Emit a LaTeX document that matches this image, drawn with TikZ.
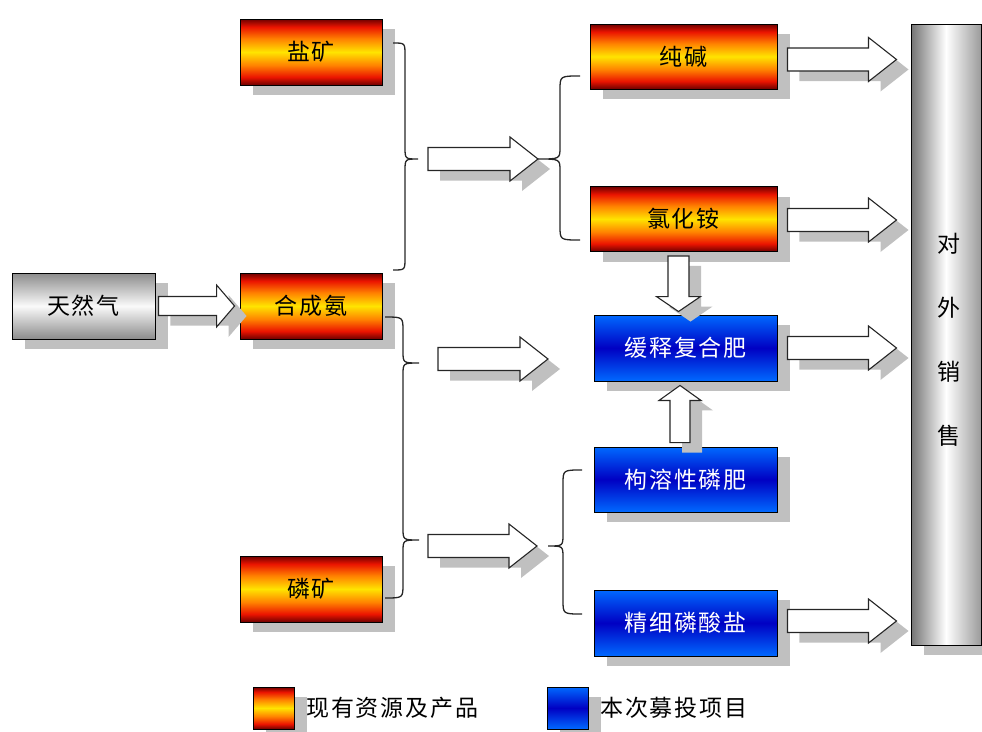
\documentclass[tikz,border=0pt]{standalone}
\usepackage{fontspec}
\newfontfamily\cjk[LetterSpace=8]{Noto Sans CJK SC}
\usetikzlibrary{shadows,calc}
\definecolor{fireD}{RGB}{110,0,0}
\definecolor{fireR}{RGB}{235,20,0}
\definecolor{fireO}{RGB}{255,130,0}
\definecolor{fireY}{RGB}{255,228,0}
\definecolor{blueL}{RGB}{0,105,255}
\definecolor{blueD}{RGB}{0,0,195}
\definecolor{grayD}{RGB}{140,140,140}
\definecolor{grayL}{RGB}{250,250,250}
\definecolor{colL}{RGB}{115,115,115}
\definecolor{colR}{RGB}{155,155,155}
\definecolor{shadowG}{RGB}{192,192,192}
\pgfdeclareverticalshading{fireshade}{100bp}{color(0bp)=(fireD); color(25bp)=(fireD); color(31bp)=(fireR); color(40bp)=(fireO); color(50bp)=(fireY); color(60bp)=(fireO); color(69bp)=(fireR); color(75bp)=(fireD); color(100bp)=(fireD)}
\pgfdeclareverticalshading{blueshade}{100bp}{color(0bp)=(blueL); color(25bp)=(blueL); color(50bp)=(blueD); color(75bp)=(blueL); color(100bp)=(blueL)}
\pgfdeclareverticalshading{grayshade}{100bp}{color(0bp)=(grayD); color(25bp)=(grayD); color(50bp)=(grayL); color(75bp)=(grayD); color(100bp)=(grayD)}
\pgfdeclarehorizontalshading{colshade}{100bp}{color(0bp)=(colL); color(25bp)=(colL); color(50bp)=(white); color(75bp)=(colR); color(100bp)=(colR)}
\tikzset{
  shadowed/.style={drop shadow={shadow xshift=13pt, shadow yshift=-10pt, fill=shadowG, opacity=1}},
  cjkfont/.style={font=\cjk\fontsize{23}{27}\selectfont},
  box/.style={draw=black, line width=0.9pt, shadowed, cjkfont, inner sep=0pt},
  firebox/.style={box, shade, shading=fireshade, minimum width=142pt, minimum height=66pt, text=black},
  graybox/.style={box, shade, shading=grayshade, minimum width=143pt, minimum height=66pt, text=black},
  prodbox/.style={box, shade, shading=fireshade, minimum width=187pt, minimum height=65pt, text=black},
  bluebox/.style={box, shade, shading=blueshade, minimum width=183pt, minimum height=66pt, text=white},
  blockar/.style={draw=black!85, line width=1.1pt, fill=white, line join=miter,
     drop shadow={shadow xshift=12pt, shadow yshift=-10pt, fill=shadowG, opacity=1}},
  bracel/.style={draw=black!85, line width=1.3pt},
  legtext/.style={cjkfont, anchor=west, inner sep=0pt}
}
% horizontal block arrow: start, end, head length, shaft half width, head half width
\newcommand\harrow[5]{%
  \path[blockar] let \p1=#1, \p2=#2 in
   (\x1,{\y1+#4}) -- ({\x2-#3},{\y1+#4}) -- ({\x2-#3},{\y1+#5}) -- (\x2,\y1)
   -- ({\x2-#3},{\y1-#5}) -- ({\x2-#3},{\y1-#4}) -- (\x1,{\y1-#4}) -- cycle;}
% vertical block arrow
\newcommand\varrow[5]{%
  \path[blockar] let \p1=#1, \p2=#2, \n1={sign(\y2-\y1)} in
   ({\x1-#4},\y1) -- ({\x1-#4},{\y2-\n1*#3}) -- ({\x1-#5},{\y2-\n1*#3}) -- (\x1,\y2)
   -- ({\x1+#5},{\y2-\n1*#3}) -- ({\x1+#4},{\y2-\n1*#3}) -- ({\x1+#4},\y1) -- cycle;}
\begin{document}
\begin{tikzpicture}[x=1pt,y=-1pt]
\useasboundingbox (0,0) rectangle (982,731);
% column
\node[draw=black, line width=1pt, shade, shading=colshade, shadowed, minimum width=70pt, minimum height=621pt, inner sep=0pt] (col) at (946,334.5) {};
\node[cjkfont, align=center, font=\cjk\fontsize{23}{64}\selectfont] (sales) at (949,340) {对\\外\\销\\售};
% resources
\node[firebox] (yk) at (311,52) {盐矿};
\node[firebox] (hca) at (311,306) {合成氨};
\node[firebox] (lk) at (311,589) {磷矿};
\node[graybox] (trq) at (83.5,306) {天然气};
% products
\node[prodbox] (cj) at (683.5,56.5) {纯碱};
\node[prodbox] (lha) at (683.5,219) {氯化铵};
\node[bluebox] (hs) at (685.5,348) {缓释复合肥};
\node[bluebox, minimum height=65pt] (gr) at (685.5,479.5) {枸溶性磷肥};
\node[bluebox] (jx) at (685.5,623) {精细磷酸盐};
% braces
\coordinate (tipA) at (418,159);
\coordinate (tipB) at (538,159);
\coordinate (tipC1) at (419,363);
\coordinate (tipC2) at (419,540);
\coordinate (tipD) at (548,546);
\path[bracel] (393,43) .. controls (405,43) .. (405,55) -- (405,147)
  .. controls (405,159) .. (tipA) .. controls (405,159) .. (405,171) -- (405,258)
  .. controls (405,270) .. (393,270);
\path[bracel] (580,76) .. controls (560,76) .. (560,90) -- (560,147)
  .. controls (560,159) .. (tipB) .. controls (560,159) .. (560,171) -- (560,226)
  .. controls (560,240) .. (580,240);
\path[bracel] (385,317) .. controls (403,317) .. (403,331) -- (403,351)
  .. controls (403,363) .. (tipC1) .. controls (403,363) .. (403,375) -- (403,528)
  .. controls (403,540) .. (tipC2) .. controls (403,540) .. (403,552) -- (403,584)
  .. controls (403,598) .. (385,598);
\path[bracel] (582,470) .. controls (563,470) .. (563,484) -- (563,534)
  .. controls (563,546) .. (tipD) .. controls (563,546) .. (563,558) -- (563,600)
  .. controls (563,614) .. (582,614);
% block arrows
\coordinate (aA) at (428,159);
\coordinate (aC1) at (438,359);
\coordinate (eC1) at (548,359);
\coordinate (aC2) at (428,546);
\coordinate (eC2) at (537,546);
\harrow{($(trq.east)+(3,0)$)}{($(hca.west)+(-5,0)$)}{18pt}{9.5pt}{21pt}
\harrow{(aA)}{(tipB)}{28pt}{11.5pt}{22pt}
\harrow{(aC1)}{(eC1)}{28pt}{11.5pt}{22pt}
\harrow{(aC2)}{(eC2)}{28pt}{11.5pt}{22pt}
\harrow{($(cj.east)+(10,3)$)}{($(col.west |- cj.east)+(-14,3)$)}{28pt}{11.5pt}{22pt}
\harrow{($(lha.east)+(10,1)$)}{($(col.west |- lha.east)+(-14,1)$)}{28pt}{11.5pt}{22pt}
\harrow{($(hs.east)+(10,0)$)}{($(col.west |- hs.east)+(-14,0)$)}{28pt}{11.5pt}{22pt}
\harrow{($(jx.east)+(10,-2)$)}{($(col.west |- jx.east)+(-14,-2)$)}{28pt}{11.5pt}{22pt}
\varrow{($(lha.south)+(-5,4)$)}{($(hs.north)+(-7,-3)$)}{15pt}{10.5pt}{22pt}
\varrow{($(gr.north)+(-5.5,-4)$)}{($(hs.south)+(-5.5,4)$)}{15pt}{10pt}{21pt}
% legend
\node[box, shade, shading=fireshade, minimum width=41pt, minimum height=42pt] (legR) at (273.5,708) {};
\node[legtext] (legRt) at (306,708) {现有资源及产品};
\node[box, shade, shading=blueshade, minimum width=41pt, minimum height=42pt] (legB) at (567.5,708) {};
\node[legtext] (legBt) at (600,708) {本次募投项目};
\end{tikzpicture}
\end{document}
